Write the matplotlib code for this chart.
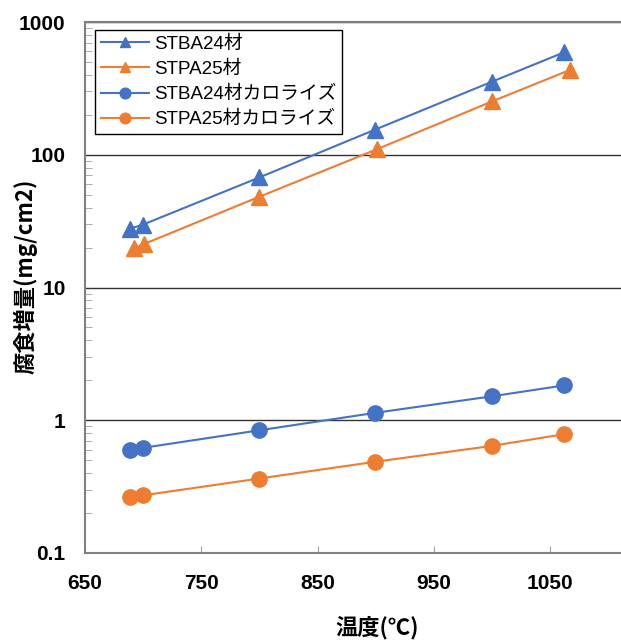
import numpy as np
import matplotlib
matplotlib.use("Agg")
import matplotlib.pyplot as plt
from matplotlib.ticker import LogLocator, FixedLocator, NullFormatter

plt.rcParams['font.family'] = ['Liberation Sans', 'Noto Sans CJK JP']

# temperatures (deg C) and weight gain (mg/cm2)
temp_stba = [689, 700, 800, 899, 1000, 1062]
stba24 = [27.8, 29.8, 67.5, 154, 355, 591]
temp_stpa = [692, 701, 800, 901, 1000, 1067]
stpa25 = [19.7, 21.3, 48.3, 110, 252, 435]
temp_cal = [689, 700, 800, 899, 1000, 1062]
stba24_cal = [0.60, 0.62, 0.84, 1.135, 1.515, 1.83]
stpa25_cal = [0.262, 0.272, 0.364, 0.486, 0.641, 0.785]

labels = ["STBA24材", "STPA25材", "STBA24材カロライズ", "STPA25材カロライズ"]
xticks = [650, 750, 850, 950, 1050]

blue = "#4472C4"
orange = "#ED7D31"

fig = plt.figure(figsize=(6.21, 6.41), dpi=100)
ax = fig.add_axes([85 / 621, 1 - 553 / 641, 1 - 85 / 621, (553 - 22) / 641])

ax.plot(temp_stba, stba24, color=blue, marker="^", ms=11, lw=1.5, label=labels[0])
ax.plot(temp_stpa, stpa25, color=orange, marker="^", ms=11, lw=1.5, label=labels[1])
ax.plot(temp_cal, stba24_cal, color=blue, marker="o", ms=11, lw=1.5, label=labels[2])
ax.plot(temp_cal, stpa25_cal, color=orange, marker="o", ms=11, lw=1.5, label=labels[3])

ax.set_yscale("log")
ax.set_ylim(0.1, 1000)
ax.set_xlim(650, 1111)

ax.xaxis.set_major_locator(FixedLocator(xticks))
ax.set_yticks([0.1, 1, 10, 100, 1000])
ax.set_yticklabels(["0.1", "1", "10", "100", "1000"])
ax.yaxis.set_minor_locator(LogLocator(base=10, subs=np.arange(2, 10)))
ax.yaxis.set_minor_formatter(NullFormatter())

ax.grid(True, axis="y", which="major", color="#333333", lw=1)
for s in ["left", "bottom", "top"]:
    ax.spines[s].set_color("#808080")
    ax.spines[s].set_linewidth(1.5)
ax.spines["right"].set_visible(False)

ax.tick_params(axis="x", which="major", direction="in", length=5, color="#a0a0a0",
               labelsize=15, pad=15)
ax.tick_params(axis="y", which="major", direction="in", length=0, labelsize=15, pad=14)
ax.tick_params(axis="y", which="minor", direction="in", length=5, color="#a0a0a0")
for t in ax.get_xticklabels() + ax.get_yticklabels():
    t.set_fontweight("bold")

fig.text(377 / 621, 1 - 628 / 641, "温度(℃)", fontsize=16, fontweight="bold",
         ha="center", va="center", family=["Noto Sans CJK JP"])
fig.text(25 / 621, 1 - 276 / 641, "腐食増量(mg/cm2)", fontsize=16, fontweight="bold",
         ha="center", va="center", rotation=90, family=["Noto Sans CJK JP"])

leg = ax.legend(loc="upper left", bbox_to_anchor=(10 / 536, 1 - 8 / 531), fontsize=13.5,
                fancybox=False, edgecolor="black", framealpha=1, borderpad=0.3,
                labelspacing=0.42, handlelength=2.6, handletextpad=0.25,
                borderaxespad=0, markerscale=0.7)
leg.get_frame().set_linewidth(1)

fig.savefig("out.png", dpi=100)
